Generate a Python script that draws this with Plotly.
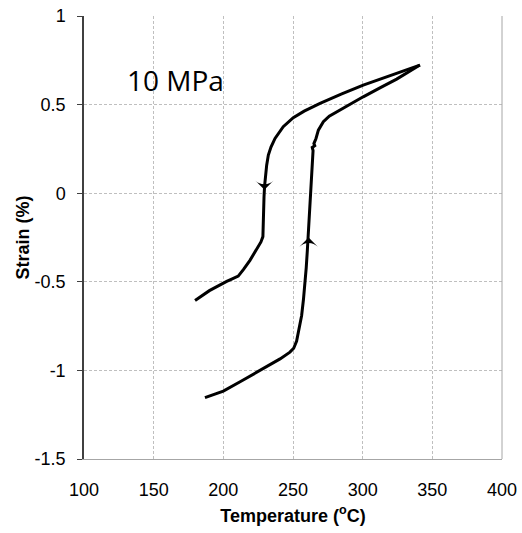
import plotly.graph_objects as go

# Cooling branch (from max temperature down)
cool_T = [341.1, 324.4, 312.4, 300.4, 285, 269.4, 258, 250.2, 243, 237.1, 234.2, 232.3, 231.1,
          230.2, 229.6, 229.2, 228.9, 228.6, 228.4, 227, 223, 219.1, 214.5, 210.7, 206, 202.4,
          190, 179.7]
cool_S = [0.723, 0.676, 0.645, 0.61, 0.56, 0.507, 0.463, 0.426, 0.375, 0.309, 0.26, 0.215,
          0.158, 0.1, 0.04, -0.02, -0.1, -0.2, -0.245, -0.275, -0.33, -0.379, -0.43, -0.468,
          -0.485, -0.498, -0.55, -0.605]

# Heating branch (from low temperature up)
heat_T = [186.8, 200, 213, 226.3, 234, 240.7, 247.8, 250.5, 252.6, 254.5, 256.2, 257.5, 258.6,
          259.5, 260.3, 261.3, 262.2, 262.9, 264, 264.4, 263.8, 265.6, 265.0, 266.5, 268.2,
          271.8, 276, 281.4, 290, 300.4, 312.4, 324.4, 341.1]
heat_S = [-1.154, -1.117, -1.06, -1.0, -0.965, -0.935, -0.897, -0.875, -0.835, -0.765, -0.69,
          -0.6, -0.51, -0.42, -0.322, -0.2, -0.04, 0.06, 0.16, 0.24, 0.258, 0.268, 0.28, 0.309,
          0.356, 0.403, 0.435, 0.46, 0.5, 0.544, 0.594, 0.644, 0.723]

# direction arrows (tip position, pointing angle)
arrow_T = [229.5, 261.2]
arrow_S = [0.02, -0.25]
arrow_angle = [180, 0]

x_ticks = [100, 150, 200, 250, 300, 350, 400]
y_ticks = [1, 0.5, 0, -0.5, -1, -1.5]
y_ticktext = ["1", "0.5", "0", "-0.5", "-1", "-1.5"]

fig = go.Figure()
fig.add_trace(go.Scatter(x=cool_T, y=cool_S, mode="lines",
                         line=dict(color="black", width=3), showlegend=False))
fig.add_trace(go.Scatter(x=heat_T, y=heat_S, mode="lines",
                         line=dict(color="black", width=3), showlegend=False))
fig.add_trace(go.Scatter(x=arrow_T, y=arrow_S, mode="markers", showlegend=False,
                         marker=dict(symbol="arrow-wide", size=13, angle=arrow_angle,
                                     color="black", line=dict(width=0))))

fig.add_annotation(x=166, y=0.64, xref="x", yref="y", text="10 MPa", showarrow=False,
                   font=dict(family="Open Sans", size=28, color="black"))

# right border of plot area
fig.add_shape(type="line", xref="paper", yref="paper", x0=1, x1=1, y0=0, y1=1,
              line=dict(color="#a6a6a6", width=1))

fig.update_layout(
    width=522, height=533,
    margin=dict(l=84, r=20, t=16, b=74),
    paper_bgcolor="white", plot_bgcolor="white",
    font=dict(family="Liberation Sans, Arial", size=18, color="black"),
    xaxis=dict(range=[100, 400], tickvals=x_ticks, showgrid=True, automargin=False,
               gridcolor="#bfbfbf", griddash="3px,2px", gridwidth=1,
               showline=True, linecolor="#a6a6a6", linewidth=1,
               ticks="", ticklabelstandoff=14, zeroline=False,
               title=dict(text="<b>Temperature (<sup>o</sup>C)</b>", standoff=10,
                          font=dict(size=18))),
    yaxis=dict(range=[-1.5, 1], tickvals=y_ticks, ticktext=y_ticktext, showgrid=True,
               automargin=False,
               gridcolor="#bfbfbf", griddash="3px,2px", gridwidth=1,
               showline=True, linecolor="#404040", linewidth=1.5,
               ticks="outside", ticklen=5, tickcolor="#404040", tickwidth=1,
               ticklabelstandoff=8, zeroline=False,
               title=dict(text="<b>Strain (%)</b>", standoff=0, font=dict(size=18))),
)

fig.write_html("out.html")
